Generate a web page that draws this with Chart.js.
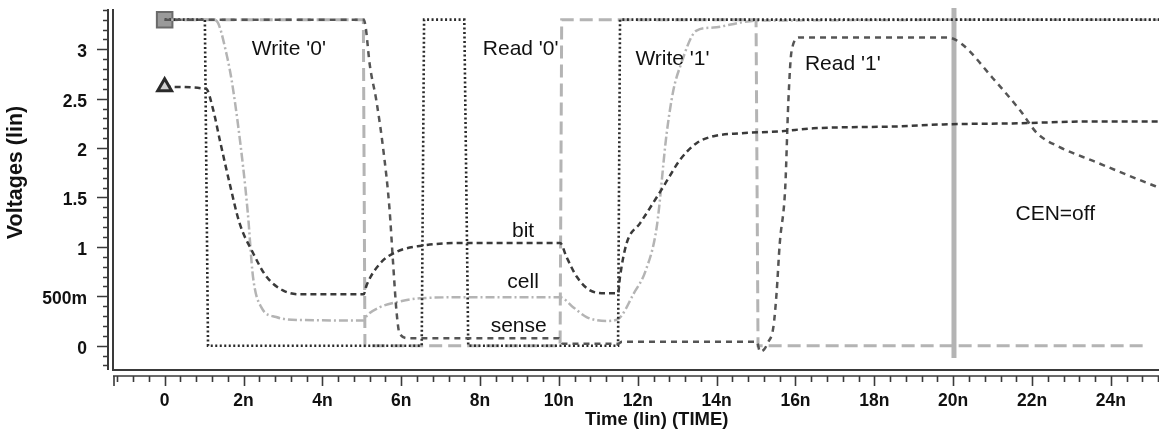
<!DOCTYPE html>
<html>
<head>
<meta charset="utf-8">
<title>SRAM cell transient</title>
<script src="https://cdn.jsdelivr.net/npm/chart.js@4.4.1/dist/chart.umd.min.js"></script>
<style>
    html, body { margin: 0; padding: 0; background: #fff; }
</style>
</head>
<body>
<canvas id="waveChart" width="1159" height="432"></canvas>
<script>
// Axis ranges (time in ns, voltage in V)
const xMin = -1.31, xMax = 25.22;
const yMin = -0.246, yMax = 3.418;

// Tick values and labels
const xTicks = [0, 2, 4, 6, 8, 10, 12, 14, 16, 18, 20, 22, 24];
const xTickLabels = ['0', '2n', '4n', '6n', '8n', '10n', '12n', '14n', '16n', '18n', '20n', '22n', '24n'];
const yTicks = [0, 0.5, 1, 1.5, 2, 2.5, 3];
const yTickLabels = ['0', '500m', '1', '1.5', '2', '2.5', '3'];

// Word line (dark dotted)
const wlTime = [0, 1.02, 1.1, 6.52, 6.58, 7.6, 7.7, 11.5, 11.55, 25.22];
const wlVolt = [3.3, 3.3, 0, 0, 3.3, 3.3, 0, 0, 3.3, 3.3];

// Write enable (light long dashes)
const weTime = [0, 5.04, 5.08, 10.03, 10.07, 15.0, 15.05, 24.9];
const weVolt = [3.3, 3.3, 0, 0, 3.3, 3.3, 0, 0];

// bit (dark dashes)
const bitTime = [0, 1.05, 1.23, 1.4, 1.65, 1.9, 2.24, 2.58, 3.0, 3.43, 5.05, 5.12, 5.46, 5.88, 6.47, 7.66,
    10.03, 10.19, 10.45, 10.79, 11.2, 11.5, 11.55, 11.72, 12.06, 12.65, 13.07, 13.49, 13.92, 14.6, 15.6,
    16.45, 18.65, 19.75, 21.5, 23.55, 25.22];
const bitVolt = [2.62, 2.6, 2.39, 2.08, 1.64, 1.24, 0.94, 0.70, 0.56, 0.52, 0.52, 0.61, 0.83, 0.95, 1.01, 1.04,
    1.04, 0.90, 0.70, 0.56, 0.53, 0.53, 0.70, 1.04, 1.24, 1.61, 1.88, 2.05, 2.12, 2.15, 2.17,
    2.2, 2.22, 2.24, 2.25, 2.27, 2.27];

// cell (light dash-dot)
const cellTime = [0, 1.2, 1.31, 1.57, 1.73, 1.99, 2.11, 2.24, 2.45, 2.83, 3.43, 5.05, 5.1, 5.46, 5.88, 6.47, 7.57,
    10.03, 10.36, 10.7, 11.2, 11.5, 11.9, 12.2, 12.48, 12.73, 12.9, 13.07, 13.49, 13.92, 14.6, 15.0, 25.22];
const cellVolt = [3.3, 3.3, 3.29, 2.95, 2.61, 1.81, 1.34, 0.70, 0.39, 0.29, 0.26, 0.255, 0.29, 0.39, 0.44, 0.48, 0.49,
    0.49, 0.39, 0.29, 0.25, 0.27, 0.53, 0.76, 1.2, 2.14, 2.58, 2.82, 3.19, 3.22, 3.27, 3.29, 3.3];

// sense (dark dashes)
const senseTime = [0, 5.05, 5.1, 5.2, 5.37, 5.55, 5.7, 5.8, 5.88, 5.96, 6.2, 7.0, 10.0, 10.1, 11.5, 11.6,
    15.02, 15.1, 15.2, 15.3, 15.44, 15.52, 15.6, 15.74, 15.82, 15.9, 16.1, 19.85,
    20.2, 21.0, 21.7, 22.13, 22.7, 23.55, 24.9, 25.22];
const senseVolt = [3.3, 3.3, 3.22, 2.85, 2.48, 1.97, 1.4, 0.8, 0.35, 0.12, 0.075, 0.075, 0.075, 0.02, 0.02, 0.04,
    0.04, -0.06, -0.04, 0.03, 0.19, 0.53, 1.03, 1.6, 2.48, 2.98, 3.12, 3.12,
    3.06, 2.71, 2.38, 2.15, 2.01, 1.87, 1.65, 1.6];

// Cursor (CEN goes off)
const cursorTime = [20.02, 20.02];
const cursorVolt = [-0.125, 3.418];

// Text notes on the plot
const noteText = ["Write '0'", "Read '0'", "Write '1'", "Read '1'", 'CEN=off', 'bit', 'cell', 'sense'];
const noteTime = [3.15, 9.03, 12.88, 17.2, 22.59, 9.09, 9.09, 8.98];
const noteVolt = [2.94, 2.94, 2.84, 2.79, 1.277, 1.103, 0.581, 0.142];

const FONT = '"Liberation Sans", Arial, Helvetica, sans-serif';

const toPoints = (ts, vs) => ts.map((t, i) => ({ x: t, y: vs[i] }));
const firstOnly = (r) => (c) => (c.dataIndex === 0 ? r : 0);

// Axis frame, minor ticks, titles and notes
const frame = {
    id: 'frame',
    afterDraw(chart) {
        const { ctx, chartArea: a, scales } = chart;
        const xs = scales.x, ys = scales.y;
        ctx.save();
        ctx.strokeStyle = '#3a3a3a';
        ctx.lineWidth = 2;
        ctx.beginPath();
        ctx.moveTo(a.left - 5, a.top + 1); ctx.lineTo(a.left - 5, a.bottom);
        ctx.moveTo(a.left, a.top + 1); ctx.lineTo(a.left, a.bottom + 1);
        ctx.moveTo(a.left - 1, a.bottom); ctx.lineTo(a.right, a.bottom);
        ctx.stroke();

        // y ticks every 0.1 V
        ctx.lineWidth = 1.6;
        ctx.beginPath();
        for (let i = -2; i <= 34; i++) {
            const py = Math.round(ys.getPixelForValue(i / 10)) + 0.5;
            const len = i % 5 === 0 ? 11 : 5;
            ctx.moveTo(a.left - 5 - len, py); ctx.lineTo(a.left - 5, py);
        }
        // x ticks every 0.4 ns
        const base = a.bottom + 6;
        ctx.moveTo(a.left, base); ctx.lineTo(a.right, base);
        ctx.moveTo(a.left + 1, base); ctx.lineTo(a.left + 1, base + 10);
        for (let i = -3; i <= 63; i++) {
            const px = Math.round(xs.getPixelForValue(i * 0.4)) + 0.5;
            const len = i % 5 === 0 ? 10 : 6;
            ctx.moveTo(px, base); ctx.lineTo(px, base + len);
        }
        ctx.stroke();

        // axis titles
        ctx.fillStyle = '#111';
        ctx.font = 'bold 18.5px ' + FONT;
        ctx.textAlign = 'center';
        ctx.textBaseline = 'alphabetic';
        ctx.fillText('Time (lin) (TIME)', 656.7, 425);
        ctx.save();
        ctx.translate(22, 172.5);
        ctx.rotate(-Math.PI / 2);
        ctx.font = 'bold 21.5px ' + FONT;
        ctx.fillText('Voltages (lin)', 0, 0);
        ctx.restore();

        // notes
        ctx.font = '21px ' + FONT;
        noteText.forEach((txt, i) => {
            ctx.fillText(txt, xs.getPixelForValue(noteTime[i]), ys.getPixelForValue(noteVolt[i]));
        });
        ctx.restore();
    }
};

const tickFont = { family: FONT, size: 17.5, weight: 'bold' };

new Chart(document.getElementById('waveChart').getContext('2d'), {
    type: 'line',
    data: {
        datasets: [
            {
                label: 'bit',
                data: toPoints(bitTime, bitVolt),
                borderColor: '#3a3a3a',
                borderWidth: 2.5,
                borderDash: [6, 4],
                cubicInterpolationMode: 'monotone',
                pointStyle: 'triangle',
                pointRadius: firstOnly(8),
                pointBackgroundColor: '#d0d0d0',
                pointBorderColor: '#2a2a2a',
                pointBorderWidth: 3
            },
            {
                label: 'sense',
                data: toPoints(senseTime, senseVolt),
                borderColor: '#555',
                borderWidth: 2.5,
                borderDash: [6, 5],
                cubicInterpolationMode: 'monotone',
                pointRadius: 0
            },
            {
                label: 'wl',
                data: toPoints(wlTime, wlVolt),
                borderColor: '#2a2a2a',
                borderWidth: 2.6,
                borderDash: [2, 2.5],
                tension: 0,
                pointRadius: 0
            },
            {
                label: 'cell',
                data: toPoints(cellTime, cellVolt),
                borderColor: '#b4b4b4',
                borderWidth: 2.5,
                borderDash: [9, 3, 2, 3],
                cubicInterpolationMode: 'monotone',
                pointRadius: 0
            },
            {
                label: 'we',
                data: toPoints(weTime, weVolt),
                borderColor: '#b4b4b4',
                borderWidth: 3,
                borderDash: [13, 6],
                tension: 0,
                pointStyle: 'rect',
                pointRadius: firstOnly(11),
                pointBackgroundColor: '#9a9a9a',
                pointBorderColor: '#6a6a6a',
                pointBorderWidth: 2
            },
            {
                label: 'cursor',
                data: toPoints(cursorTime, cursorVolt),
                borderColor: '#b4b4b4',
                borderWidth: 5,
                pointRadius: 0
            }
        ]
    },
    options: {
        responsive: false,
        animation: false,
        events: [],
        layout: { autoPadding: false, padding: { top: 8, right: 0, bottom: 0, left: 0 } },
        plugins: {
            legend: { display: false },
            tooltip: { enabled: false }
        },
        scales: {
            x: {
                type: 'linear',
                min: xMin,
                max: xMax,
                grid: { display: false, drawTicks: false },
                border: { display: false },
                afterBuildTicks: (scale) => { scale.ticks = xTicks.map(v => ({ value: v })); },
                afterFit: (scale) => { scale.height = 62; scale.paddingLeft = 0; scale.paddingRight = 0; },
                ticks: {
                    autoSkip: false,
                    maxRotation: 0,
                    padding: 21,
                    color: '#111',
                    font: tickFont,
                    callback: (value) => xTickLabels[xTicks.indexOf(value)]
                }
            },
            y: {
                type: 'linear',
                min: yMin,
                max: yMax,
                grid: { display: false, drawTicks: false },
                border: { display: false },
                afterBuildTicks: (scale) => { scale.ticks = yTicks.map(v => ({ value: v })); },
                afterFit: (scale) => { scale.width = 113; scale.paddingTop = 0; scale.paddingBottom = 0; },
                ticks: {
                    autoSkip: false,
                    padding: 26,
                    labelOffset: 3,
                    color: '#111',
                    font: tickFont,
                    callback: (value) => yTickLabels[yTicks.indexOf(value)]
                }
            }
        }
    },
    plugins: [frame]
});
</script>
</body>
</html>
